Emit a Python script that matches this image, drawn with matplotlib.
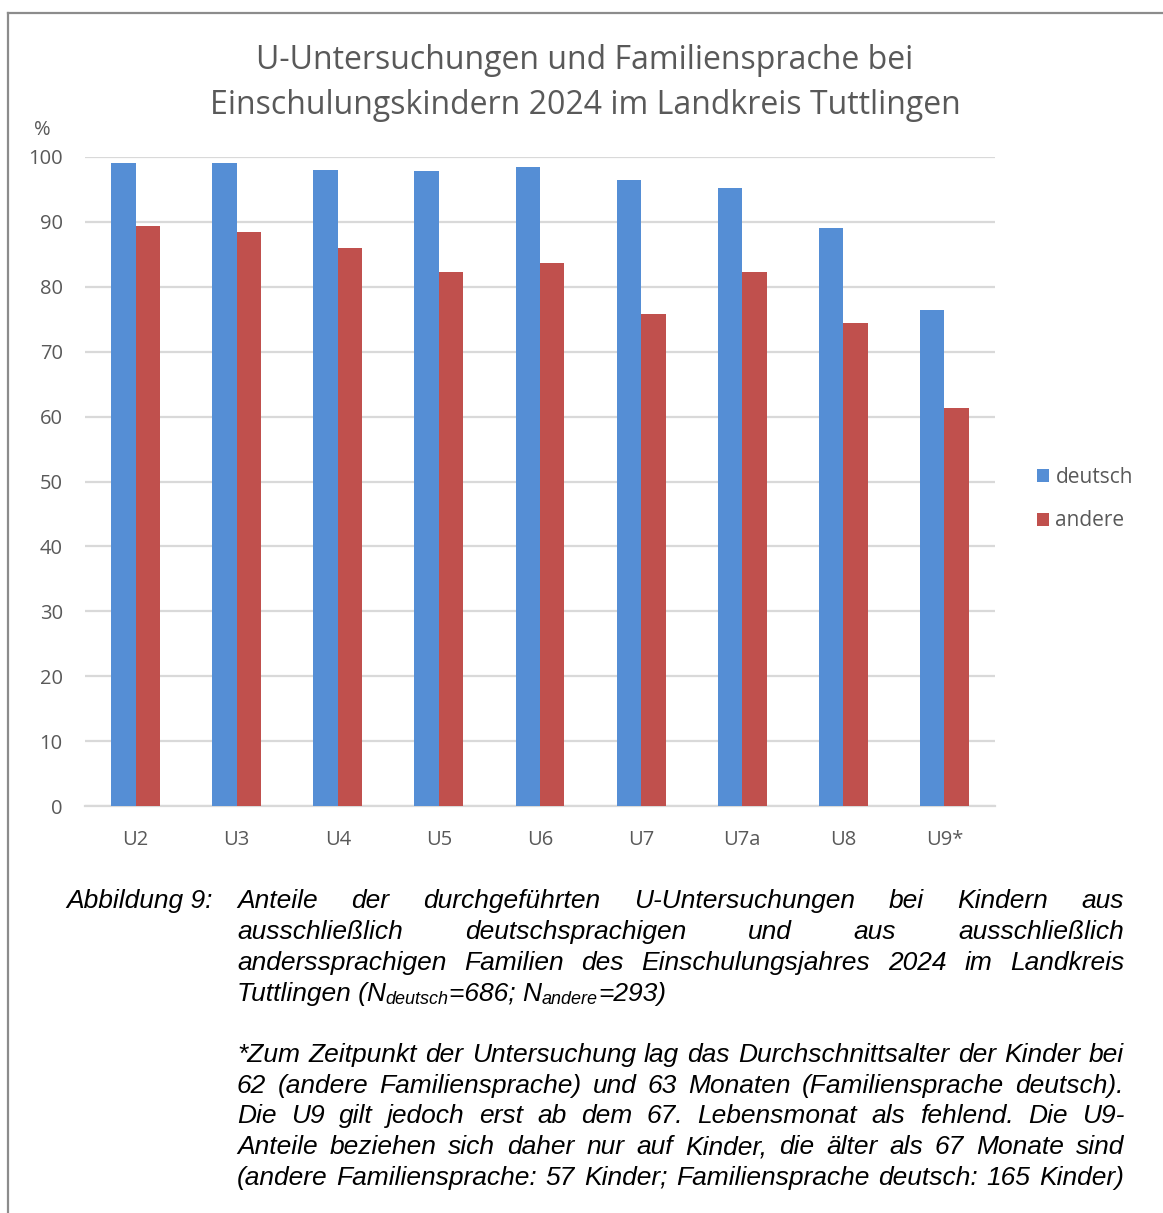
import numpy as np
import matplotlib
matplotlib.use('Agg')
import matplotlib.pyplot as plt
from matplotlib import font_manager

# data
kategorien = ['U2', 'U3', 'U4', 'U5', 'U6', 'U7', 'U7a', 'U8', 'U9*']
deutsch = [99.1, 99.0, 98.0, 97.8, 98.4, 96.5, 95.2, 89.1, 76.4]
andere = [89.4, 88.4, 86.0, 82.3, 83.6, 75.8, 82.3, 74.4, 61.4]
yticks = [0, 10, 20, 30, 40, 50, 60, 70, 80, 90, 100]

titel = 'U-Untersuchungen und Familiensprache bei\nEinschulungskindern 2024 im Landkreis Tuttlingen'
block1 = [
    'Anteile der durchgeführten U-Untersuchungen bei Kindern aus',
    'ausschließlich deutschsprachigen und aus ausschließlich',
    'anderssprachigen Familien des Einschulungsjahres 2024 im Landkreis',
]
block2 = [
    '*Zum Zeitpunkt der Untersuchung lag das Durchschnittsalter der Kinder bei',
    '62 (andere Familiensprache) und 63 Monaten (Familiensprache deutsch).',
    'Die U9 gilt jedoch erst ab dem 67. Lebensmonat als fehlend. Die U9-',
    'Anteile beziehen sich daher nur auf Kinder, die älter als 67 Monate sind',
    '(andere Familiensprache: 57 Kinder; Familiensprache deutsch: 165 Kinder)',
]

W, H = 1163, 1213
blau = '#558ED5'
rot = '#C0504D'
grau = '#595959'


def font_ok(name):
    try:
        font_manager.findfont(name, fallback_to_default=False)
        return True
    except Exception:
        return False


cap_font = 'Liberation Sans Narrow' if font_ok('Liberation Sans Narrow') else 'Liberation Sans'
chart_font = 'Open Sans'

fig = plt.figure(figsize=(W / 100, H / 100), dpi=100)
ax = fig.add_axes([85 / W, 1 - 806 / H, 910 / W, 649 / H])

x = np.arange(len(kategorien))
bw = 0.242
ax.bar(x - bw / 2, deutsch, bw, color=blau, label='deutsch', zorder=3)
ax.bar(x + bw / 2, andere, bw, color=rot, label='andere', zorder=3)

ax.set_xlim(-0.5, len(kategorien) - 0.5)
ax.set_ylim(0, 100)
ax.set_yticks(yticks)
ax.set_xticks(x)
ax.set_xticklabels(kategorien)
ax.yaxis.grid(True, color='#D9D9D9', linewidth=1.6, zorder=0)
for s in ['top', 'right', 'left']:
    ax.spines[s].set_visible(False)
ax.spines['bottom'].set_color('#D9D9D9')
ax.spines['bottom'].set_linewidth(1.6)
ax.tick_params(axis='y', length=0, colors=grau, labelsize=14.5, pad=16)
ax.tick_params(axis='x', length=0, colors=grau, labelsize=14.5, pad=17)
for lab in ax.get_xticklabels() + ax.get_yticklabels():
    lab.set_fontfamily(chart_font)

fig.text(42 / W, 1 - 130 / H, '%', ha='center', va='center', fontsize=14.5,
         color=grau, family=chart_font)
fig.text(585 / W, 1 - 83 / H, titel, ha='center', va='center', fontsize=23,
         color=grau, family=chart_font, linespacing=1.47)

leg = fig.legend(loc='center left', bbox_to_anchor=(1018 / W, 1 - 499 / H),
                 frameon=False, handlelength=0.6, handleheight=0.6,
                 handletextpad=0.3, labelspacing=1.1,
                 prop={'family': chart_font, 'size': 15})
for t in leg.get_texts():
    t.set_color(grau)

# frame around the figure (top and left edges visible in the reference)
fig.add_artist(plt.Line2D([8 / W, 1], [1 - 13 / H, 1 - 13 / H], color='#8C8C8C', lw=1.6))
fig.add_artist(plt.Line2D([8 / W, 8 / W], [0, 1 - 13 / H], color='#8C8C8C', lw=1.6))

renderer = fig.canvas.get_renderer()
cap_size = 19
left, right = 237, 1124


def width_px(s, size=cap_size):
    t = fig.text(0, 0, s, fontsize=size, family=cap_font, style='italic')
    w = t.get_window_extent(renderer).width
    t.remove()
    return w


def justify(line, base_y):
    words = line.split(' ')
    widths = [width_px(w) for w in words]
    gap = (right - left - sum(widths)) / (len(words) - 1)
    xp = left
    for w, wd in zip(words, widths):
        fig.text(xp / W, 1 - base_y / H, w, fontsize=cap_size, family=cap_font,
                 style='italic', va='baseline', ha='left')
        xp += wd + gap


def pieces(segs, base_y):
    xp = left
    for s, size, dy in segs:
        fig.text(xp / W, 1 - (base_y + dy) / H, s, fontsize=size, family=cap_font,
                 style='italic', va='baseline', ha='left')
        xp += width_px(s, size)


fig.text(66 / W, 1 - 908 / H, 'Abbildung 9:', fontsize=cap_size, family=cap_font,
         style='italic', va='baseline', ha='left')
base1 = [908, 939, 970]
for line, by in zip(block1, base1):
    justify(line, by)
pieces([('Tuttlingen (N', cap_size, 0), ('deutsch', 13, 3), ('=686; N', cap_size, 0),
        ('andere', 13, 3), ('=293)', cap_size, 0)], 1001)

base2 = [1062, 1093, 1123, 1154, 1185]
for line, by in zip(block2, base2):
    justify(line, by)

fig.savefig('out.png', dpi=100)
